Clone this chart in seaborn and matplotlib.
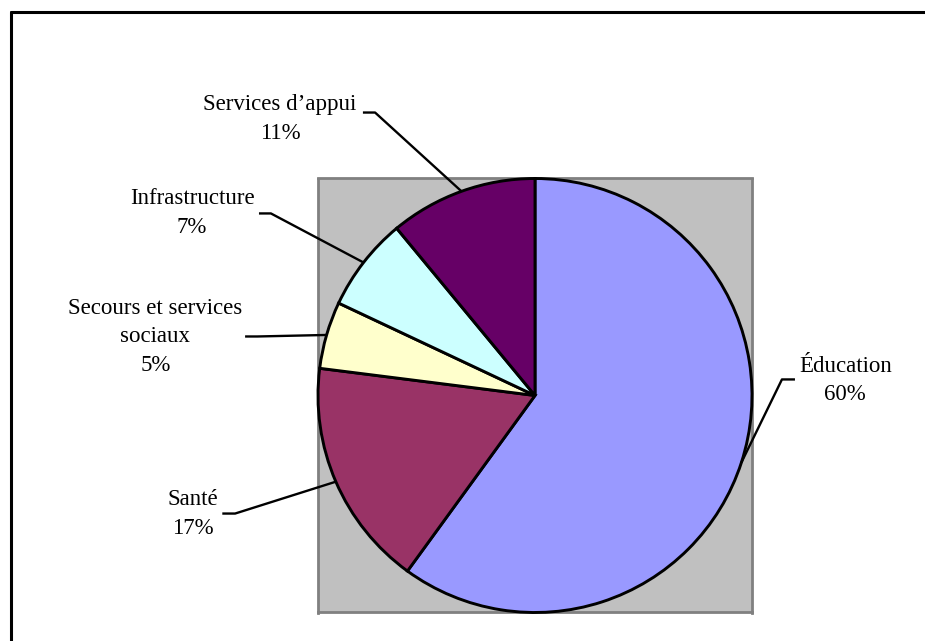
import numpy as np
import matplotlib
matplotlib.use("Agg")
import matplotlib.pyplot as plt
import seaborn as sns
from matplotlib.lines import Line2D

# --- data ---
categories = ["Éducation", "Santé", "Secours et services\nsociaux", "Infrastructure", "Services d\u2019appui"]
shares = [60, 17, 5, 7, 11]
colors = ["#9999FF", "#993366", "#FFFFCC", "#CCFFFF", "#660066"]

# label block centres and leader stubs (pie radius = 1, centre = 0,0)
label_pos = [(1.43, 0.07), (-1.575, -0.545), (-1.75, 0.27), (-1.58, 0.84), (-1.175, 1.275)]
stub_start = [(1.198, 0.074), (-1.441, -0.544), (-1.336, 0.272), (-1.272, 0.839), (-0.793, 1.304)]
stub_end = [(1.138, 0.074), (-1.382, -0.544), (-1.28, 0.272), (-1.217, 0.839), (-0.737, 1.304)]

sns.set_theme(style="white")
plt.rcParams["font.family"] = ["Liberation Serif", "DejaVu Serif"]

fig = plt.figure(figsize=(9.25, 6.41), dpi=100)
ax = fig.add_axes([318 / 925, 28 / 641, 434 / 925, 435 / 641])

wedges, _ = ax.pie(shares, colors=sns.color_palette(colors), startangle=90, counterclock=False,
                   radius=1, frame=True,
                   wedgeprops=dict(edgecolor="black", linewidth=2.1, clip_on=False))
ax.set_facecolor("#C0C0C0")
for sp in ax.spines.values():
    sp.set_visible(True)
    sp.set_color("#808080")
    sp.set_linewidth(2)
    sp.set_zorder(0.5)
ax.set_xlim(-1, 1)
ax.set_ylim(-1, 1)
ax.set_aspect("equal")
ax.set_xticks([])
ax.set_yticks([])

for w, cat, val, lp, s0, s1 in zip(wedges, categories, shares, label_pos, stub_start, stub_end):
    mid = np.deg2rad((w.theta1 + w.theta2) / 2)
    ex, ey = np.cos(mid), np.sin(mid)
    ax.plot([s0[0], s1[0], ex], [s0[1], s1[1], ey], color="black", lw=1.7, clip_on=False,
            solid_capstyle="butt")
    ax.text(lp[0], lp[1], f"{cat}\n{val}%", ha="center", va="center", fontsize=16.5,
            linespacing=1.47, color="black", clip_on=False)

# outer chart frame (only top and left edges visible in the crop)
fx, fy = 11 / 925, 1 - 12 / 641
fig.add_artist(Line2D([fx, fx], [0, fy], transform=fig.transFigure, color="black", lw=2.2))
fig.add_artist(Line2D([fx, 1], [fy, fy], transform=fig.transFigure, color="black", lw=2.2))

fig.savefig("out.png", dpi=100)
